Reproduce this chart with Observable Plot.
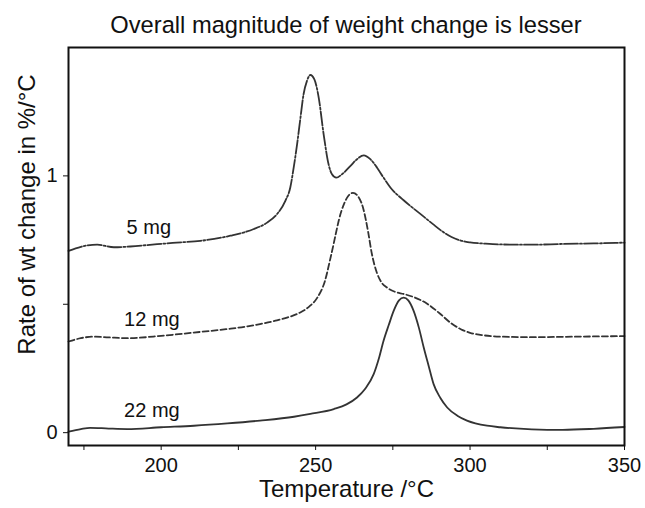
<!DOCTYPE html>
<html>
<head>
<meta charset="utf-8">
<script src="https://cdn.jsdelivr.net/npm/d3@7"></script>
<script src="https://cdn.jsdelivr.net/npm/@observablehq/plot@0.6"></script>
<style>
  html, body { margin: 0; padding: 0; background: #fff; }
  body { width: 645px; height: 508px; overflow: hidden; font-family: "Liberation Sans", Arial, Helvetica, sans-serif; }
  #title { box-sizing: border-box; height: 35px; padding-top: 15px; margin-left: 68px; width: 556px;
           text-align: center; font-size: 23.7px; line-height: 20px; color: #111; white-space: nowrap; }
  #chart svg { display: block; overflow: visible; }
</style>
</head>
<body>
<div id="title">Overall magnitude of weight change is lesser</div>
<div id="chart"></div>
<script>
// DTG curves: rate of weight change (%/°C) against temperature (°C) for three sample masses.
const temp5 = [170, 174, 179.3, 184.7, 190, 198.7, 205, 212.7, 222.4, 230, 234.3, 237.5, 240.2, 241.8, 242.9, 244, 245.1, 246.1, 247.2, 248.3, 249.6, 251, 252.6, 254.2, 255.3, 256.7, 258.5, 261.3, 263.4, 265.6, 267.7, 269.9, 272, 274.2, 278.5, 283.9, 288, 291, 294, 297, 300, 305, 310, 320, 330, 340, 350];
const rate5 = [0.708, 0.724, 0.732, 0.722, 0.725, 0.734, 0.740, 0.747, 0.767, 0.793, 0.818, 0.851, 0.903, 0.955, 1.032, 1.123, 1.227, 1.318, 1.370, 1.393, 1.376, 1.305, 1.162, 1.045, 1.006, 0.993, 1.006, 1.039, 1.065, 1.080, 1.065, 1.032, 0.993, 0.955, 0.905, 0.852, 0.812, 0.784, 0.762, 0.748, 0.741, 0.736, 0.733, 0.732, 0.735, 0.737, 0.740];

const temp12 = [170, 174, 178, 183, 189, 200, 210, 221, 228, 232, 237, 241, 245, 248, 250.5, 253, 255, 258.3, 260.5, 262.1, 263.7, 265.4, 267, 268.1, 269.8, 271.4, 273, 275.8, 278.5, 282, 286, 290.4, 294, 297, 300, 303.3, 309.8, 320, 335, 350];
const rate12 = [0.355, 0.368, 0.374, 0.371, 0.368, 0.377, 0.389, 0.403, 0.414, 0.423, 0.436, 0.449, 0.468, 0.492, 0.525, 0.590, 0.690, 0.861, 0.921, 0.934, 0.921, 0.874, 0.782, 0.703, 0.624, 0.584, 0.566, 0.548, 0.540, 0.527, 0.503, 0.462, 0.425, 0.403, 0.389, 0.381, 0.374, 0.372, 0.374, 0.376];

const temp22 = [170, 174, 177, 183, 189, 200, 210.6, 221.4, 232, 243, 248.3, 255.9, 260, 263.4, 266, 268.8, 270.5, 272, 273.7, 275.3, 277, 278.5, 280, 281.7, 283.4, 285, 286.6, 288.2, 290.4, 292.6, 296, 299, 305.5, 309.8, 320, 330, 340, 350];
const rate22 = [0.004, 0.014, 0.019, 0.016, 0.014, 0.021, 0.027, 0.036, 0.047, 0.062, 0.073, 0.092, 0.110, 0.137, 0.170, 0.228, 0.290, 0.358, 0.420, 0.475, 0.515, 0.526, 0.515, 0.475, 0.410, 0.332, 0.260, 0.189, 0.135, 0.098, 0.065, 0.047, 0.027, 0.021, 0.013, 0.011, 0.015, 0.022];

const seriesNames = ["5 mg", "12 mg", "22 mg"];
const seriesDash = ["14,2,2,2", "6,3", null];
const labelTemps = [196, 197, 197];

const xTicks = [175, 200, 225, 250, 275, 300, 325, 350];
const xTickLabels = [200, 250, 300, 350];
const yTicks = [0, 0.5, 1];
const yTickLabels = [0, 1];

const xTitle = "Temperature /°C";
const yTitle = "Rate of wt change in %/°C";

const seriesTemps = [temp5, temp12, temp22];
const seriesRates = [rate5, rate12, rate22];

const tables = seriesNames.map((name, i) =>
  seriesTemps[i].map((t, j) => ({name, temp: t, rate: seriesRates[i][j]}))
);

// linear lookup on a curve, used to sit each name just above its line
function rateAt(ts, rs, t) {
  const j = Math.max(1, d3.bisectLeft(ts, t));
  const f = (t - ts[j - 1]) / (ts[j] - ts[j - 1]);
  return rs[j - 1] + f * (rs[j] - rs[j - 1]);
}
const labelRows = seriesNames.map((name, i) => ({
  name, temp: labelTemps[i], rate: rateAt(seriesTemps[i], seriesRates[i], labelTemps[i])
}));

const ink = "#333";
const chart = Plot.plot({
  width: 645,
  height: 473,
  marginTop: 12,
  marginBottom: 63,
  marginLeft: 68,
  marginRight: 21,
  style: {fontFamily: "'Liberation Sans', Arial, Helvetica, sans-serif", fontSize: "20px", color: "#111", background: "#fff"},
  x: {domain: [170, 350]},
  y: {domain: [-0.05, 1.5]},
  marks: [
    ...tables.map((rows, i) => Plot.line(rows, {
      x: "temp", y: "rate", curve: "monotone-x",
      stroke: ink, strokeWidth: 1.8,
      strokeDasharray: seriesDash[i] ?? undefined
    })),
    Plot.frame({stroke: "#111", strokeWidth: 2}),
    Plot.axisX({
      ticks: xTicks, tickSize: 5, tickPadding: 7, label: null,
      tickFormat: (d) => xTickLabels.includes(d) ? String(d) : ""
    }),
    Plot.axisY({
      ticks: yTicks, tickSize: 5, tickPadding: 6, label: null,
      tickFormat: (d) => yTickLabels.includes(d) ? String(d) : ""
    }),
    Plot.text(labelRows, {x: "temp", y: "rate", text: "name", dy: -17, fill: "#111", fontSize: 20}),
    Plot.text([xTitle], {frameAnchor: "bottom", textAnchor: "middle", lineAnchor: "middle", dy: 44, fill: "#111", fontSize: 24}),
    Plot.text([yTitle], {frameAnchor: "left", textAnchor: "middle", lineAnchor: "middle", rotate: -90, dx: -41, dy: -32, fill: "#111", fontSize: 24})
  ]
});
document.getElementById("chart").append(chart);
</script>
</body>
</html>
